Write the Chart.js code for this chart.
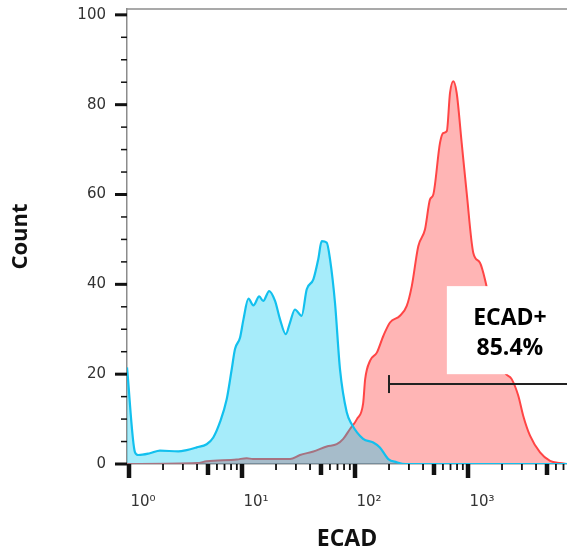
<!DOCTYPE html>
<html>
<head>
<meta charset="utf-8">
<script src="https://cdn.jsdelivr.net/npm/chart.js@4"></script>
<style>
  html, body { margin: 0; padding: 0; background: #fff; overflow: hidden; }
  #wrap { width: 567px; height: 553px; }
</style>
</head>
<body>
<div id="wrap"><canvas id="histo"></canvas></div>
<script>
// control (isotype) histogram
const blueX = [0.96, 1.13, 1.21, 1.53, 1.88, 2.73, 3.24, 3.97, 4.87, 5.57, 6.38, 7.32, 8.11, 8.67, 9.6, 10.3, 11.4, 12.6, 14.2, 15.4, 17.4, 19.6, 21.7, 24.4, 26.6, 29.4, 33.7, 37.4, 42.8, 47.3, 50.7, 56.2, 60.1, 66.5, 73.7, 84.5, 93.3, 118, 145, 166, 197, 234, 280, 7600];
const blueY = [21.5, 2.6, 2.0, 2.4, 3.0, 2.8, 3.1, 3.7, 4.4, 5.9, 9.3, 14.4, 21.1, 25.6, 28.1, 32.2, 36.8, 35.3, 37.3, 36.3, 38.5, 36.3, 32.2, 28.9, 31.5, 34.4, 33.0, 38.9, 41.1, 45.6, 49.6, 49.3, 45.6, 35.9, 21.0, 11.5, 8.9, 5.6, 4.8, 3.7, 1.1, 0.4, 0, 0];

// ECAD stained histogram
const redX = [0.96, 4, 4.87, 8.97, 11, 12.5, 26.6, 32.6, 42.8, 56.2, 68.9, 78.7, 90.3, 104, 118, 123, 136, 156, 178, 204, 250, 287, 318, 363, 416, 461, 493, 565, 604, 649, 693, 741, 794, 879, 973, 1114, 1276, 1413, 1674, 2053, 2436, 2786, 3083, 3538, 4339, 5318, 6516, 7600];
const redY = [0, 0.2, 0.6, 1.0, 1.3, 1.1, 1.1, 2.0, 2.8, 3.9, 4.4, 5.6, 7.8, 10, 13.5, 18.9, 23, 24.8, 28.5, 31.5, 33, 35.2, 39.6, 48.5, 52.2, 58.9, 60, 71.5, 73.7, 74.1, 82.6, 85.2, 82.6, 71.5, 60.4, 47, 44.8, 41.1, 32.2, 21.1, 18.9, 15.2, 10.7, 6.3, 2.6, 0.7, 0.2, 0];

// gate ECAD+
const gateX = [200, 8000];
const gateY = [17.8, 17.8];
const gateLabel = ['ECAD+', '85.4%'];
const gateBox = { xFrom: 650, yTop: 39.6, yBottom: 20 };

const xDecades = [1, 10, 100, 1000];
const xDecadeLabels = ['10⁰', '10¹', '10²', '10³'];
const yTicks = [0, 20, 40, 60, 80, 100];

const toPoints = (xs, ys) => xs.map((x, i) => ({ x: x, y: ys[i] }));

// minor / major tick marks like the flow software draws them
const tickMarks = {
  id: 'tickMarks',
  afterDraw(chart) {
    const { ctx, chartArea } = chart;
    const x = chart.scales.x, y = chart.scales.y;
    ctx.save();
    // top frame line
    ctx.strokeStyle = '#8c8c8c';
    ctx.lineWidth = 1.5;
    ctx.beginPath();
    ctx.moveTo(chartArea.left, chartArea.top);
    ctx.lineTo(chartArea.right, chartArea.top);
    ctx.stroke();

    ctx.strokeStyle = '#111';
    for (let e = 0; e <= 4; e++) {
      for (let d = 1; d <= 9; d++) {
        const v = d * Math.pow(10, e);
        if (v < x.min || v > x.max) continue;
        const px = x.getPixelForValue(v);
        const big = d === 1 || d === 5;
        ctx.lineWidth = big ? 4.5 : 1.8;
        ctx.beginPath();
        ctx.moveTo(px, chartArea.bottom);
        ctx.lineTo(px, chartArea.bottom + (d === 1 ? 14 : big ? 11 : 6));
        ctx.stroke();
      }
    }
    for (let v = 0; v <= 100; v += 5) {
      const py = y.getPixelForValue(v);
      const big = v % 20 === 0;
      ctx.lineWidth = big ? 3 : 1.5;
      ctx.beginPath();
      ctx.moveTo(chartArea.left, py);
      ctx.lineTo(chartArea.left - (big ? 12 : 6), py);
      ctx.stroke();
    }
    ctx.restore();
  }
};

// white label box of the gate
const gateText = {
  id: 'gateText',
  afterDatasetsDraw(chart) {
    const { ctx, chartArea } = chart;
    const x = chart.scales.x, y = chart.scales.y;
    const left = x.getPixelForValue(gateBox.xFrom);
    const top = y.getPixelForValue(gateBox.yTop);
    const bottom = y.getPixelForValue(gateBox.yBottom);
    ctx.save();
    ctx.fillStyle = '#fff';
    ctx.fillRect(left, top, chartArea.right - left, bottom - top);
    ctx.fillStyle = '#000';
    ctx.font = 'bold 23px "Open Sans"';
    ctx.textAlign = 'center';
    ctx.textBaseline = 'middle';
    const cx = (left + chartArea.right) / 2 + 3;
    ctx.fillText(gateLabel[0], cx, top + 32);
    ctx.fillText(gateLabel[1], cx, top + 62);
    ctx.restore();
  }
};

new Chart(document.getElementById('histo').getContext('2d'), {
  type: 'line',
  data: {
    datasets: [
      {
        label: 'gate',
        data: toPoints(gateX, gateY),
        borderColor: '#222',
        borderWidth: 2,
        pointStyle: 'line',
        rotation: 90,
        pointRadius: [9, 0],
        pointBorderColor: '#222',
        pointBorderWidth: 2,
        fill: false
      },
      {
        label: 'control',
        data: toPoints(blueX, blueY),
        borderColor: '#12c0ee',
        borderWidth: 2.2,
        backgroundColor: 'rgba(0, 200, 240, 0.35)',
        fill: 'origin',
        pointRadius: 0,
        cubicInterpolationMode: 'monotone'
      },
      {
        label: 'ECAD',
        data: toPoints(redX, redY),
        borderColor: '#ff4545',
        borderWidth: 2,
        backgroundColor: 'rgba(255, 60, 60, 0.38)',
        fill: 'origin',
        pointRadius: 0,
        cubicInterpolationMode: 'monotone'
      }
    ]
  },
  options: {
    responsive: true,
    maintainAspectRatio: false,
    animation: false,
    layout: { autoPadding: false, padding: { top: 9, right: 0, left: 0, bottom: 0 } },
    plugins: { legend: { display: false }, tooltip: { enabled: false } },
    scales: {
      x: {
        type: 'logarithmic',
        min: 0.96,
        max: 7516,
        afterBuildTicks: s => { s.ticks = xDecades.map(v => ({ value: v })); },
        afterFit: s => { s.height = 89; s.paddingLeft = 0; s.paddingRight = 0; },
        grid: { display: false },
        border: { color: '#8c8c8c', width: 1.5 },
        ticks: {
          autoSkip: false,
          maxRotation: 0,
          padding: 21,
          labelOffset: 14,
          color: '#333',
          font: { family: 'DejaVu Sans', size: 15 },
          callback: (v, i) => xDecadeLabels[i]
        },
        title: {
          display: true,
          text: 'ECAD',
          color: '#111',
          font: { family: 'Open Sans', size: 23, weight: 'bold' },
          padding: { top: 0, bottom: 0 }
        }
      },
      y: {
        min: 0,
        max: 101.3,
        afterBuildTicks: s => { s.ticks = yTicks.map(v => ({ value: v })); },
        afterFit: s => { s.width = 127; s.paddingTop = 0; s.paddingBottom = 0; },
        grid: { display: false },
        border: { color: '#8c8c8c', width: 1.5 },
        ticks: {
          padding: 13,
          color: '#333',
          font: { family: 'DejaVu Sans', size: 15 }
        },
        title: {
          display: true,
          text: 'Count',
          color: '#111',
          font: { family: 'Open Sans', size: 22, weight: 'bold' },
          padding: { top: 8, bottom: 0 }
        }
      }
    }
  },
  plugins: [tickMarks, gateText]
});
</script>
</body>
</html>
